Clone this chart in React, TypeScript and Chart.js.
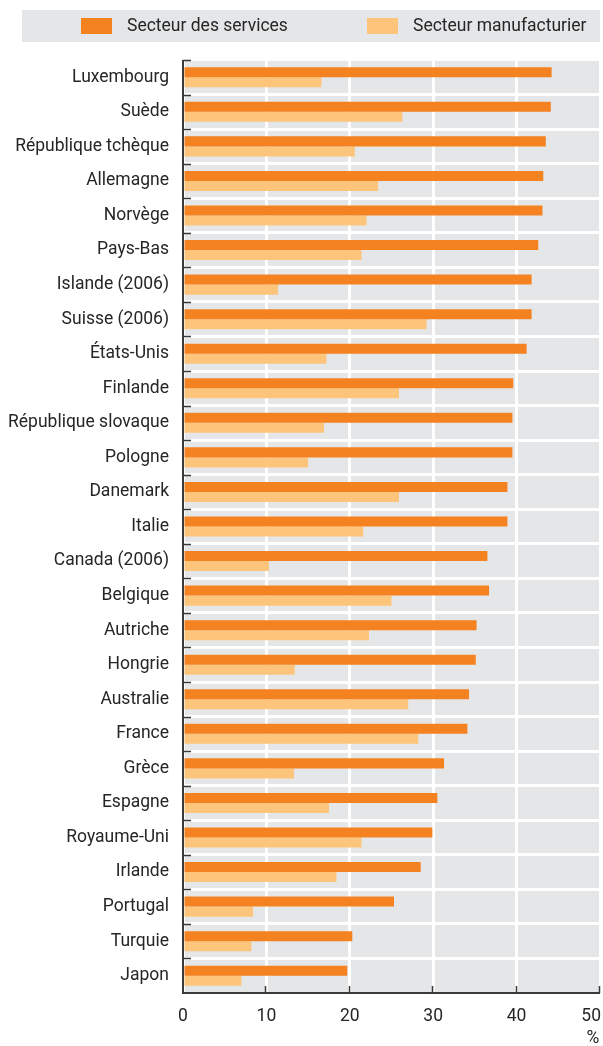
import React, { useEffect, useRef } from "react";
import { Chart, registerables } from "chart.js";

Chart.register(...registerables);

const countries = [
  "Luxembourg", "Suède", "République tchèque", "Allemagne", "Norvège", "Pays-Bas",
  "Islande (2006)", "Suisse (2006)", "États-Unis", "Finlande", "République slovaque",
  "Pologne", "Danemark", "Italie", "Canada (2006)", "Belgique", "Autriche", "Hongrie",
  "Australie", "France", "Grèce", "Espagne", "Royaume-Uni", "Irlande", "Portugal",
  "Turquie", "Japon",
];

const services = [
  44.2, 44.1, 43.5, 43.2, 43.1, 42.6, 41.8, 41.8, 41.2, 39.6, 39.5, 39.5, 38.9, 38.9,
  36.5, 36.7, 35.2, 35.1, 34.3, 34.1, 31.3, 30.5, 29.9, 28.5, 25.3, 20.3, 19.7,
];

const manufacturing = [
  16.6, 26.3, 20.6, 23.4, 22.0, 21.4, 11.4, 29.2, 17.2, 25.9, 16.9, 15.0, 25.9, 21.6,
  10.3, 25.0, 22.3, 13.4, 27.0, 28.2, 13.3, 17.5, 21.4, 18.4, 8.4, 8.2, 7.0,
];

const seriesLabels = ["Secteur des services", "Secteur manufacturier"];
const xTicks = [0, 10, 20, 30, 40, 50];
const unitLabel = "%";

const FONT = "Roboto, 'Liberation Sans', sans-serif";
const FSIZE = 17.5;
const TEXT = "#262626";
const AXIS = "#3a3a3a";

const decorPlugin = {
  id: "decor",
  beforeDraw(chart: any) {
    const { ctx, chartArea } = chart;
    ctx.save();
    ctx.fillStyle = "#e5e6e8";
    ctx.fillRect(chartArea.left, chartArea.top, chartArea.right - chartArea.left, chartArea.bottom - chartArea.top);
    // legend box
    ctx.fillStyle = "#e5e6e8";
    ctx.fillRect(22, 10, 578, 32);
    const items = chart.data.datasets;
    const swX = [81, 367];
    ctx.font = `${FSIZE}px ${FONT}`;
    ctx.textBaseline = "middle";
    ctx.textAlign = "left";
    items.forEach((ds: any, i: number) => {
      ctx.fillStyle = ds.backgroundColor;
      ctx.fillRect(swX[i], 18, 31, 16);
      ctx.fillStyle = TEXT;
      ctx.fillText(ds.label, swX[i] + 46, 27);
    });
    ctx.restore();
  },
  afterDraw(chart: any) {
    const { ctx, chartArea, scales } = chart;
    const x = scales.x;
    const y = scales.y;
    ctx.save();
    ctx.strokeStyle = AXIS;
    ctx.lineWidth = 2;
    // axes
    ctx.beginPath();
    ctx.moveTo(chartArea.left, chartArea.top);
    ctx.lineTo(chartArea.left, chartArea.bottom);
    ctx.lineTo(chartArea.right, chartArea.bottom);
    ctx.stroke();
    // left ticks at category boundaries
    const n = chart.data.labels.length;
    const step = n > 1 ? y.getPixelForValue(1) - y.getPixelForValue(0) : 0;
    ctx.lineWidth = 1.5;
    ctx.beginPath();
    for (let i = 0; i < n; i++) {
      const py = Math.round(y.getPixelForValue(i) - step / 2) + 0.5;
      ctx.moveTo(chartArea.left, py);
      ctx.lineTo(chartArea.left + 8, py);
    }
    ctx.stroke();
    // bottom ticks
    ctx.beginPath();
    xTicks.forEach((v) => {
      if (v === 0) return;
      const px = Math.round(x.getPixelForValue(v)) - 0.5;
      ctx.moveTo(px, chartArea.bottom);
      ctx.lineTo(px, chartArea.bottom - 7);
    });
    ctx.stroke();
    // x tick labels
    ctx.fillStyle = TEXT;
    ctx.font = `${FSIZE}px ${FONT}`;
    ctx.textBaseline = "middle";
    xTicks.forEach((v, i) => {
      const px = x.getPixelForValue(v);
      const label = String(v);
      if (i === xTicks.length - 1) {
        ctx.textAlign = "right";
        ctx.fillText(label, Math.min(px + 9, 601), chartArea.bottom + 24);
      } else {
        ctx.textAlign = "center";
        ctx.fillText(label, px, chartArea.bottom + 24);
      }
    });
    ctx.textAlign = "center";
    ctx.fillText(unitLabel, x.getPixelForValue(xTicks[xTicks.length - 1]) - 7, chartArea.bottom + 46);
    ctx.restore();
  },
};

export default function App() {
  const ref = useRef<HTMLCanvasElement | null>(null);
  useEffect(() => {
    document.body.style.margin = "0";
    const canvas = ref.current;
    if (!canvas) return;
    const chart = new Chart(canvas, {
      type: "bar",
      data: {
        labels: countries,
        datasets: [
          {
            label: seriesLabels[0],
            data: services,
            backgroundColor: "#f58220",
            barPercentage: 1,
            categoryPercentage: 0.58,
          },
          {
            label: seriesLabels[1],
            data: manufacturing,
            backgroundColor: "#fdc57b",
            barPercentage: 1,
            categoryPercentage: 0.58,
          },
        ],
      },
      options: {
        indexAxis: "y",
        responsive: false,
        animation: false,
        devicePixelRatio: 1,
        layout: { padding: { top: 60, right: 3, left: 0, bottom: 0 } },
        plugins: {
          legend: { display: false },
          tooltip: { enabled: false },
          title: { display: false },
        },
        scales: {
          x: {
            min: 0,
            max: 50,
            ticks: { display: false, stepSize: 10 },
            grid: { color: "#ffffff", lineWidth: 3, drawTicks: false },
            border: { display: false },
            afterFit: (s: any) => {
              s.height = 53;
            },
          },
          y: {
            ticks: {
              color: TEXT,
              font: { family: FONT, size: FSIZE },
              padding: 14,
              autoSkip: false,
            },
            grid: { color: "#ffffff", lineWidth: 3, drawTicks: false, offset: true },
            border: { display: false },
            afterFit: (s: any) => {
              s.width = 183;
            },
          },
        },
      },
      plugins: [decorPlugin],
    } as any);
    return () => chart.destroy();
  }, []);
  return (
    <div style={{ position: "relative", width: 603, height: 1046 }}>
      <canvas ref={ref} width={603} height={1046} style={{ display: "block" }} />
    </div>
  );
}
